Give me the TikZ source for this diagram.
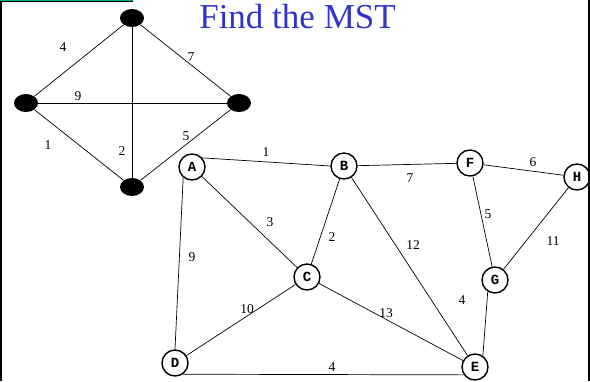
\documentclass[tikz,border=0pt]{standalone}
\usepackage{fontspec}
\setmainfont{Liberation Serif}
\newfontfamily\monofont{Liberation Mono}
\usetikzlibrary{shapes.geometric}
\definecolor{titleblue}{RGB}{51,51,204}
\definecolor{bargreen}{RGB}{0,168,128}
\tikzset{
  dot/.style={ellipse,fill=black,minimum width=24pt,minimum height=18pt,inner sep=0pt},
  vert/.style={circle,draw=black,line width=1.4pt,minimum size=26pt,inner sep=0pt,
    font=\monofont\bfseries\fontsize{14}{14}\selectfont},
  edge/.style={draw=black,line width=0.7pt},
  wt/.style={font=\fontsize{13.5}{14}\selectfont,inner sep=0pt}
}
\begin{document}
\begin{tikzpicture}[x=1pt,y=-1pt]
\useasboundingbox (0,0) rectangle (590,381);
% frame pieces
\fill[bargreen] (0,0) rectangle (133,1.2);
\fill[black] (0,1.2) rectangle (133,2.2);
\fill[black] (0,1.2) rectangle (2,381);
\fill[black] (587.5,0) rectangle (589.5,381);

% title
\node[text=titleblue,font=\fontsize{35}{38}\selectfont,inner sep=0pt,anchor=base] (title) at (297.5,28) {Find the MST};

% small complete graph on four vertices
\node[dot] (t) at (132,18) {};
\node[dot] (l) at (26,103) {};
\node[dot] (r) at (239,103) {};
\node[dot] (b) at (132,187) {};
\draw[edge] (t) -- (l);
\draw[edge] (t) -- (r);
\draw[edge] (l) -- (r);
\draw[edge] (t) -- (b);
\draw[edge] (l) -- (b);
\draw[edge] (r) -- (b);
\node[wt] (w4) at (63,47) {4};
\node[wt] (w7) at (191,57) {7};
\node[wt] (w9) at (78,96) {9};
\node[wt] (w1) at (48,145) {1};
\node[wt] (w2) at (122,151) {2};
\node[wt] (w5) at (186,136) {5};

% main weighted graph
\node[vert] (A) at (192,167) {A};
\node[vert] (B) at (344,166) {B};
\node[vert] (F) at (470,163) {F};
\node[vert] (H) at (577,177) {H};
\node[vert] (C) at (307,277) {C};
\node[vert] (G) at (495,280) {G};
\node[vert] (D) at (175,363) {D};
\node[vert] (E) at (475,367) {E};

\draw[edge] (A.42) -- (B.180);
\draw[edge] (B) -- (F);
\draw[edge] (F) -- (H);
\draw[edge] (A) -- (C);
\draw[edge] (B) -- (C);
\draw[edge] (B) -- (E);
\draw[edge] (F) -- (G);
\draw[edge] (H) -- (G);
\draw[edge] (A.-130) -- (D.90);
\draw[edge] (C) -- (D);
\draw[edge] (C) -- (E);
\draw[edge] (G.-122) -- (E.55);
\draw[edge] (D.-55) -- (E.-145);

\node[wt] (e1) at (266,152) {1};
\node[wt] (e7) at (410,178) {7};
\node[wt] (e6) at (533,162) {6};
\node[wt] (e3) at (270,222) {3};
\node[wt] (e2) at (332,237) {2};
\node[wt] (e12) at (413,245) {12};
\node[wt] (e5) at (488,214) {5};
\node[wt] (e11) at (553,241) {11};
\node[wt] (e9) at (192,257) {9};
\node[wt] (e10) at (247,309) {10};
\node[wt] (e13) at (386,313) {13};
\node[wt] (e4a) at (462,300) {4};
\node[wt] (e4b) at (332,367) {4};
\end{tikzpicture}
\end{document}
